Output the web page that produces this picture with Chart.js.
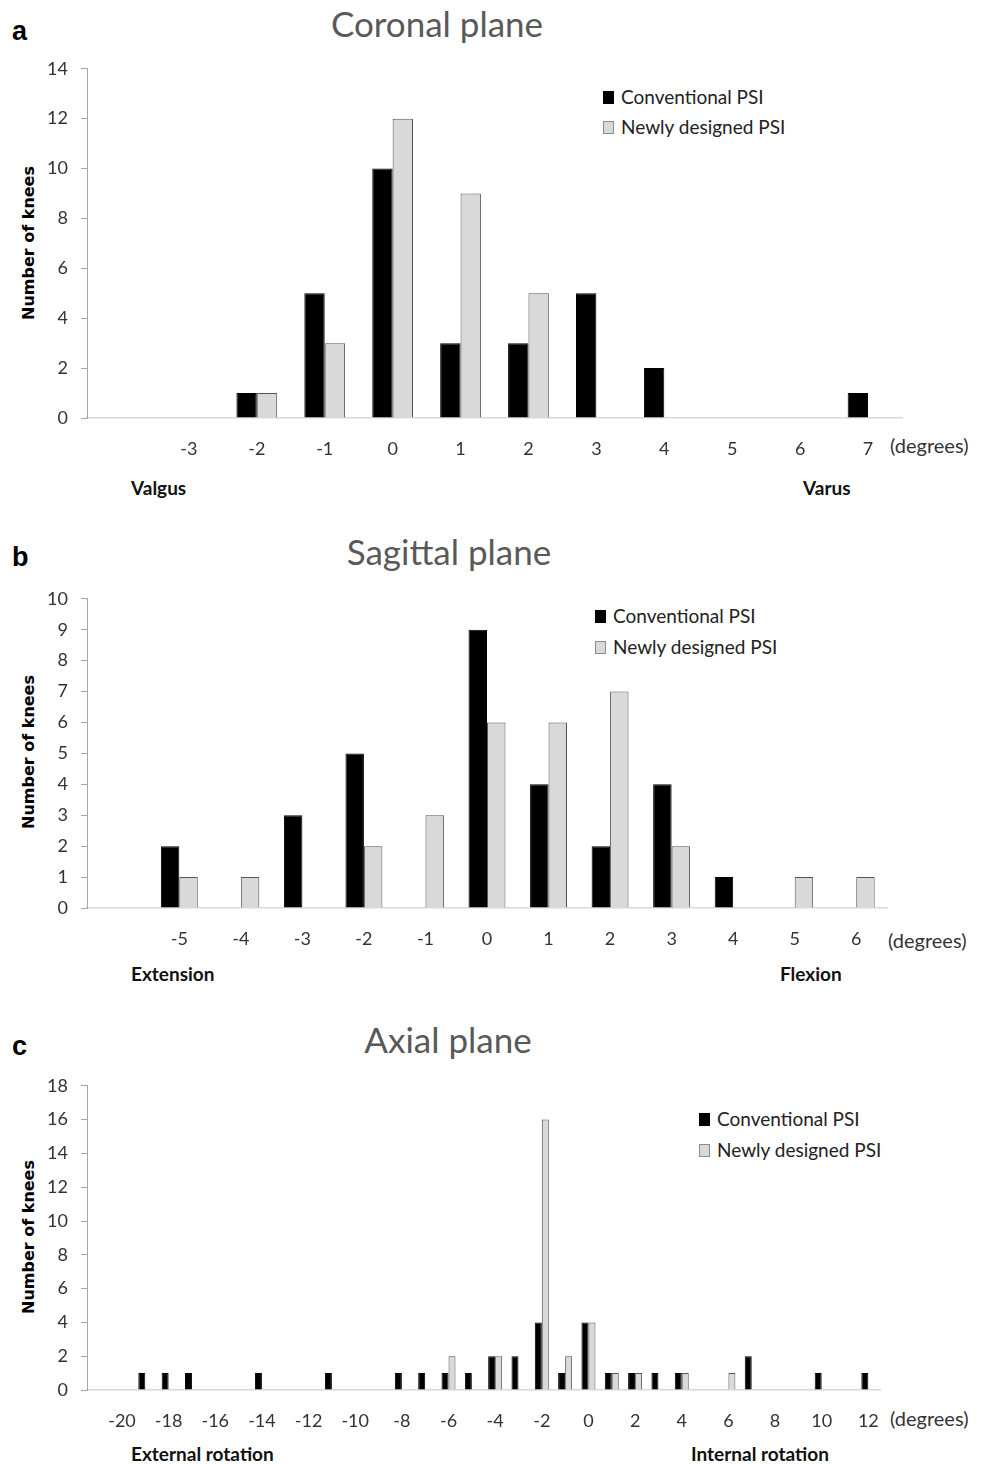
<!DOCTYPE html>
<html>
<head>
<meta charset="utf-8">
<script src="https://cdn.jsdelivr.net/npm/chart.js@4.4.0/dist/chart.umd.min.js"></script>
<style>
  html, body { margin:0; padding:0; background:#fff; }
  body { width:988px; height:1464px; position:relative; overflow:hidden; font-family: Lato, "Open Sans", sans-serif; }
  .abs { position:absolute; white-space:nowrap; line-height:1; }
  .letter { font-family: "Liberation Sans", Arial, sans-serif; font-weight:bold; font-size:27px; color:#000; }
  .title { font-family: Lato, sans-serif; font-size:35px; color:#595959; transform:translateX(-50%); }
  .ytitle { font-family: "DejaVu Sans", Verdana, sans-serif; font-weight:bold; font-size:16px; color:#000; transform:translate(-50%,-50%) rotate(-90deg); }
  .deg { font-size:20px; color:#333; }
  .side { font-weight:bold; font-size:19px; color:#111; }
  .leg { font-size:19px; color:#222; }
  .sw { position:absolute; width:11px; height:13px; box-sizing:border-box; }
  canvas { position:absolute; left:0; }
</style>
</head>
<body>

<!-- Panel a -->
<div class="abs letter" style="left:12px; top:18px;">a</div>
<div class="abs title" style="left:437px; top:6px;">Coronal plane</div>
<div class="abs ytitle" style="left:29px; top:243px;">Number of knees</div>
<div class="sw" style="left:603px; top:91px; background:#000;"></div>
<div class="abs leg" style="left:621px; top:87px;">Conventional PSI</div>
<div class="sw" style="left:603px; top:121px; background:#d9d9d9; border:1px solid #8c8c8c;"></div>
<div class="abs leg" style="left:621px; top:117px;">Newly designed PSI</div>
<div class="abs deg" style="left:890px; top:435px;">(degrees)</div>
<div class="abs side" style="left:131px; top:478px;">Valgus</div>
<div class="abs side" style="left:803px; top:478px;">Varus</div>
<canvas id="chartA"></canvas>

<!-- Panel b -->
<div class="abs letter" style="left:12px; top:544px;">b</div>
<div class="abs title" style="left:449px; top:534px;">Sagittal plane</div>
<div class="abs ytitle" style="left:29px; top:752px;">Number of knees</div>
<div class="sw" style="left:595px; top:610px; background:#000;"></div>
<div class="abs leg" style="left:613px; top:606px;">Conventional PSI</div>
<div class="sw" style="left:595px; top:641px; background:#d9d9d9; border:1px solid #8c8c8c;"></div>
<div class="abs leg" style="left:613px; top:637px;">Newly designed PSI</div>
<div class="abs deg" style="left:888px; top:930px;">(degrees)</div>
<div class="abs side" style="left:131px; top:964px;">Extension</div>
<div class="abs side" style="left:780px; top:964px;">Flexion</div>
<canvas id="chartB"></canvas>

<!-- Panel c -->
<div class="abs letter" style="left:12px; top:1033px;">c</div>
<div class="abs title" style="left:448px; top:1022px;">Axial plane</div>
<div class="abs ytitle" style="left:29px; top:1237px;">Number of knees</div>
<div class="sw" style="left:699px; top:1113px; background:#000;"></div>
<div class="abs leg" style="left:717px; top:1109px;">Conventional PSI</div>
<div class="sw" style="left:699px; top:1144px; background:#d9d9d9; border:1px solid #8c8c8c;"></div>
<div class="abs leg" style="left:717px; top:1140px;">Newly designed PSI</div>
<div class="abs deg" style="left:890px; top:1408px;">(degrees)</div>
<div class="abs side" style="left:131px; top:1444px;">External rotation</div>
<div class="abs side" style="left:691px; top:1444px;">Internal rotation</div>
<canvas id="chartC"></canvas>

<script>
// ---------- Data ----------
const coronalCategories = ['', '-3', '-2', '-1', '0', '1', '2', '3', '4', '5', '6', '7'];
const coronalConventional = [0, 0, 1, 5, 10, 3, 3, 5, 2, 0, 0, 1];
const coronalNewly        = [0, 0, 1, 3, 12, 9, 5, 0, 0, 0, 0, 0];

const sagittalCategories = ['', '-5', '-4', '-3', '-2', '-1', '0', '1', '2', '3', '4', '5', '6'];
const sagittalConventional = [0, 2, 0, 3, 5, 0, 9, 4, 2, 4, 1, 0, 0];
const sagittalNewly        = [0, 1, 1, 0, 2, 3, 6, 6, 7, 2, 0, 1, 1];

const axialCategories = ['-21','-20','-19','-18','-17','-16','-15','-14','-13','-12','-11','-10','-9','-8','-7','-6','-5','-4','-3','-2','-1','0','1','2','3','4','5','6','7','8','9','10','11','12'];
const axialConventional = [0,0,1,1,1,0,0,1,0,0,1,0,0,1,1,1,1,2,2,4,1,4,1,1,1,1,0,0,2,0,0,1,0,1];
const axialNewly        = [0,0,0,0,0,0,0,0,0,0,0,0,0,0,0,2,0,2,0,16,2,4,1,1,0,1,0,1,0,0,0,0,0,0];

const coronalYTicks = { max: 14, step: 2 };
const sagittalYTicks = { max: 10, step: 1 };
const axialYTicks = { max: 18, step: 2 };

// ---------- Builder ----------
function makePanel(id, area, cats, conv, newly, yt, labelFilter) {
  const W = 988, topPad = 10, labelExtra = 13, xAxisH = 50;
  const topOff = topPad + labelExtra;
  const canvas = document.getElementById(id);
  const h = (area.bottom - area.top) + topOff + xAxisH;
  canvas.width = W; canvas.height = h;
  canvas.style.width = W + 'px'; canvas.style.height = h + 'px';
  canvas.style.top = (area.top - topOff) + 'px';
  new Chart(canvas, {
    type: 'bar',
    data: {
      labels: cats,
      datasets: [
        { label: 'Conventional PSI', data: conv, backgroundColor: '#000000', borderColor: '#000000', borderWidth: 1,
          categoryPercentage: 0.6, barPercentage: 1.0 },
        { label: 'Newly designed PSI', data: newly, backgroundColor: '#d9d9d9', borderColor: '#555555', borderWidth: 1,
          categoryPercentage: 0.6, barPercentage: 1.0 }
      ]
    },
    options: {
      responsive: false, animation: false, devicePixelRatio: 1,
      layout: { padding: { top: topPad, left: 0, right: W - area.right, bottom: 0 } },
      plugins: { legend: { display: false }, tooltip: { enabled: false } },
      scales: {
        x: {
          grid: { display: false, drawTicks: false },
          border: { display: true, color: '#d9d9d9', width: 1.5 },
          ticks: {
            autoSkip: false, maxRotation: 0, padding: 20, color: '#333',
            font: { family: 'Lato', size: 18 },
            callback: function(v) { const l = this.getLabelForValue(v); return labelFilter(l) ? l : ''; }
          },
          afterFit: s => { s.height = xAxisH; }
        },
        y: {
          min: 0, max: yt.max,
          grid: { drawOnChartArea: false, drawTicks: true, tickLength: 6, color: '#a6a6a6' },
          border: { display: true, color: '#a6a6a6' },
          ticks: { stepSize: yt.step, padding: 13, color: '#333', font: { family: 'Lato', size: 18 } },
          afterFit: s => { s.width = area.left; }
        }
      }
    }
  });
}

makePanel('chartA', { left: 87, right: 902, top: 68, bottom: 418 }, coronalCategories, coronalConventional, coronalNewly, coronalYTicks, l => true);
makePanel('chartB', { left: 87, right: 887, top: 598, bottom: 908 }, sagittalCategories, sagittalConventional, sagittalNewly, sagittalYTicks, l => true);
makePanel('chartC', { left: 87, right: 880, top: 1085, bottom: 1390 }, axialCategories, axialConventional, axialNewly, axialYTicks,
  l => l !== '-21' && Number(l) % 2 === 0);
</script>
</body>
</html>
